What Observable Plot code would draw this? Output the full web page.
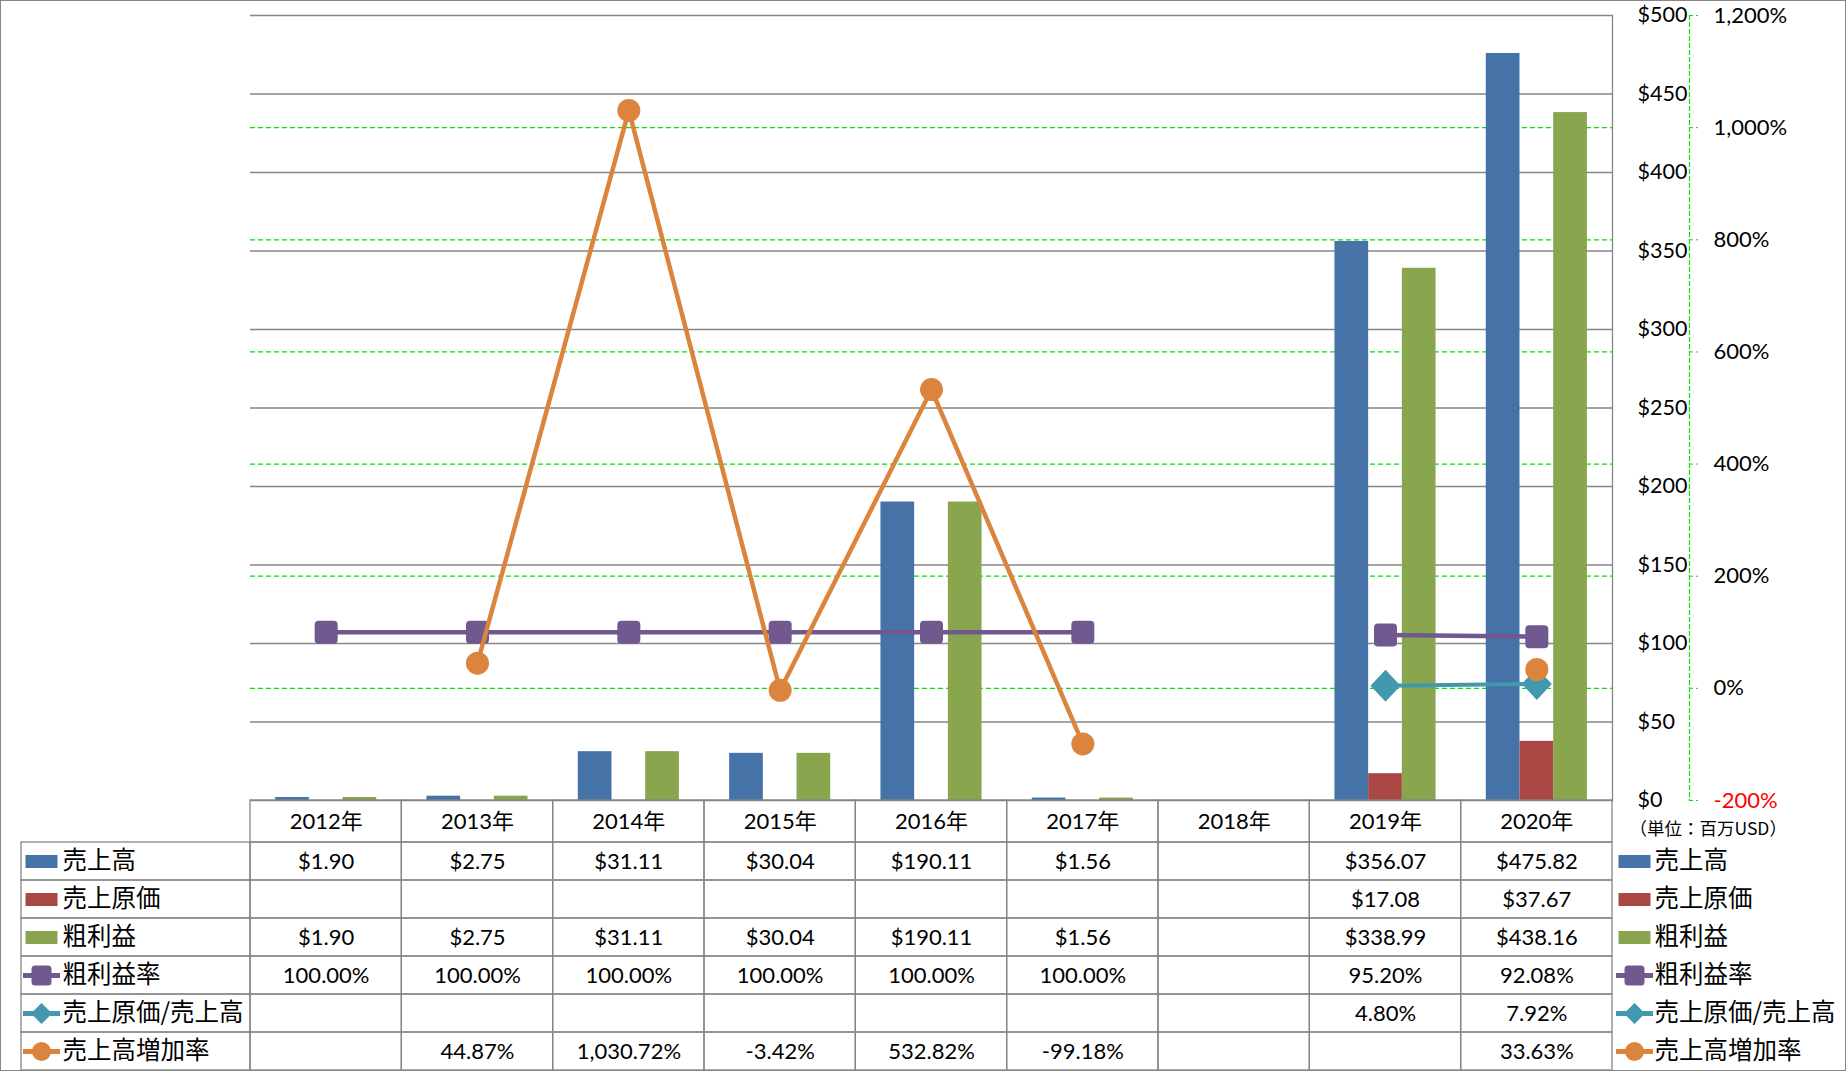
<!DOCTYPE html>
<html><head><meta charset="utf-8">
<script src="https://cdn.jsdelivr.net/npm/d3@7"></script>
<script src="https://cdn.jsdelivr.net/npm/@observablehq/plot@0.6"></script>
<style>
html,body{margin:0;padding:0;background:#fff;}
#wrap{position:relative;width:1846px;height:1071px;overflow:hidden;background:#fff;}
#wrap svg{position:absolute;overflow:visible;}
#border{position:absolute;left:0;top:0;width:1846px;height:1071px;box-sizing:border-box;border:1px solid #868686;pointer-events:none;}
</style></head>
<body><div id="wrap"><div id="border"></div></div>
<script>
// ---------- data ----------
const years = ["2012年","2013年","2014年","2015年","2016年","2017年","2018年","2019年","2020年"];
const sales       = [1.90, 2.75, 31.11, 30.04, 190.11, 1.56, null, 356.07, 475.82];
const cogs        = [null, null, null, null, null, null, null, 17.08, 37.67];
const gross       = [1.90, 2.75, 31.11, 30.04, 190.11, 1.56, null, 338.99, 438.16];
const grossMargin = [100, 100, 100, 100, 100, 100, null, 95.20, 92.08];
const cogsRatio   = [null, null, null, null, null, null, null, 4.80, 7.92];
const salesGrowth = [null, 44.87, 1030.72, -3.42, 532.82, -99.18, null, null, 33.63];
const seriesNames = ["売上高","売上原価","粗利益","粗利益率","売上原価/売上高","売上高増加率"];
const dollarTicks = [0, 50, 100, 150, 200, 250, 300, 350, 400, 450, 500];
const pctTicks = [-200, 0, 200, 400, 600, 800, 1000, 1200];
const unitNote = "（単位：百万USD）";

// ---------- styles ----------
const BLUE = "#4572A7", RED = "#AA4643", GRN = "#89A54E", PURPLE = "#71588F", CYAN = "#4198AF", ORANGE = "#DB843D";
const GRAY = "#868686", LIME = "#00E600";
const NUM = "Lato, 'Noto Sans CJK JP', sans-serif";
const JP = "'Noto Sans CJK JP', sans-serif";
const W = 1846, PL = 250, PR = 234;
const bw = (W - PL - PR) / years.length;
const barW = 33.7;
const NUMSIZE = 22, JPSIZE = 24.5;

// secondary (percent) axis mapped onto the dollar scale
const pMin = pctTicks[0], pMax = pctTicks[pctTicks.length - 1];
const dMax = dollarTicks[dollarTicks.length - 1];
const toD = p => (p == null ? NaN : (p - pMin) / (pMax - pMin) * dMax);
const fixMinus = s => s.replace(/\u2212/g, "-");
const money = v => "$" + fixMinus(d3.format(",.2f")(v));
const pct = v => fixMinus(d3.format(",.2f")(v)) + "%";
const pctLabel = v => fixMinus(d3.format(",")(v)) + "%";

const rows = years.map((year, i) => ({year, sales: sales[i], cogs: cogs[i], gross: gross[i],
  gm: grossMargin[i], cr: cogsRatio[i], sg: salesGrowth[i]}));

// ---------- symbols ----------
function roundSq(s, r) {
  return {draw(c) {
    c.moveTo(-s + r, -s); c.lineTo(s - r, -s); c.arcTo(s, -s, s, -s + r, r);
    c.lineTo(s, s - r); c.arcTo(s, s, s - r, s, r);
    c.lineTo(-s + r, s); c.arcTo(-s, s, -s, s - r, r);
    c.lineTo(-s, -s + r); c.arcTo(-s, -s, -s + r, -s, r); c.closePath();
  }};
}
const diamond = (w, h) => ({draw(c) { c.moveTo(0, -h); c.lineTo(w, 0); c.lineTo(0, h); c.lineTo(-w, 0); c.closePath(); }});
const circle = r => ({draw(c) { c.moveTo(r, 0); c.arc(0, 0, r, 0, 2 * Math.PI); c.closePath(); }});
const rectSym = {draw(c) { c.rect(-16, -6.5, 32, 13); }};
const lineSym = m => ({draw(c) { c.rect(-18.5, -2.5, 37, 5); m.draw(c); }});
const legendSym = [rectSym, rectSym, rectSym, lineSym(roundSq(10, 3.5)), lineSym(diamond(10.5, 10.5)), lineSym(circle(9.5))];
const legendFill = [BLUE, RED, GRN, PURPLE, CYAN, ORANGE];

const wrap = document.getElementById("wrap");
const border = document.getElementById("border");
function place(svg, left, top) {
  svg.style.left = left + "px"; svg.style.top = top + "px";
  wrap.insertBefore(svg, border);
}
const baseStyle = {background: "transparent", fontFamily: NUM, fontSize: NUMSIZE + "px", color: "#000", overflow: "visible"};

// ---------- main chart ----------
const chart = Plot.plot({
  width: W, height: 830,
  marginLeft: PL, marginRight: PR, marginTop: 15, marginBottom: 30,
  x: {type: "band", domain: years, padding: 0, round: false, axis: null},
  y: {domain: [0, dMax], axis: null},
  style: baseStyle,
  marks: [
    Plot.ruleY(pctTicks, {y: toD, stroke: LIME, strokeWidth: 1.2, strokeDasharray: "5,3"}),
    Plot.ruleY(dollarTicks, {y: d => d, stroke: GRAY, strokeWidth: 1.3}),
    Plot.barY(rows, {x: "year", y: "sales", fill: BLUE, insetLeft: bw / 2 - 1.5 * barW, insetRight: bw / 2 + 0.5 * barW}),
    Plot.barY(rows, {x: "year", y: "cogs", fill: RED, insetLeft: bw / 2 - 0.5 * barW, insetRight: bw / 2 - 0.5 * barW}),
    Plot.barY(rows, {x: "year", y: "gross", fill: GRN, insetLeft: bw / 2 + 0.5 * barW, insetRight: bw / 2 - 1.5 * barW}),
    Plot.line(rows, {x: "year", y: d => toD(d.gm), stroke: PURPLE, strokeWidth: 4.5}),
    Plot.dot(rows, {x: "year", y: d => toD(d.gm), symbol: roundSq(11.5, 4), fill: PURPLE}),
    Plot.line(rows, {x: "year", y: d => toD(d.cr), stroke: CYAN, strokeWidth: 4}),
    Plot.dot(rows, {x: "year", y: d => toD(d.cr), symbol: diamond(15, 16), fill: CYAN}),
    Plot.line(rows, {x: "year", y: d => toD(d.sg), stroke: ORANGE, strokeWidth: 4.5}),
    Plot.dot(rows, {x: "year", y: d => toD(d.sg), r: 11.5, fill: ORANGE}),
    Plot.frame({anchor: "right", stroke: GRAY, strokeWidth: 1.3}),
    Plot.frame({anchor: "right", dx: 77, stroke: LIME, strokeWidth: 1.2, strokeDasharray: "4,3"}),
    Plot.axisY(pctTicks.map(toD), {anchor: "right", dx: 77, tickSize: 8, tickFormat: () => "", stroke: LIME, strokeDasharray: "3,3"}),
    Plot.text(dollarTicks, {y: d => d, text: d => "$" + d, frameAnchor: "right", dx: 25, textAnchor: "start", fontSize: 21.5, fill: "#000"}),
    Plot.text(pctTicks.filter(d => d >= 0), {y: toD, text: pctLabel, frameAnchor: "right", dx: 101, textAnchor: "start", fontSize: 22, fill: "#000"}),
    Plot.text(pctTicks.filter(d => d < 0), {y: toD, text: pctLabel, frameAnchor: "right", dx: 101, textAnchor: "start", fontSize: 22, fill: "#FF0000"})
  ]
});
place(chart, 0, 0);

// ---------- table header row ----------
const header = Plot.plot({
  width: W, height: 42,
  marginLeft: PL, marginRight: PR, marginTop: 0, marginBottom: 0,
  x: {type: "band", domain: years, padding: 0, round: false, axis: null},
  y: {type: "band", domain: ["hdr"], padding: 0, round: false, axis: null},
  style: baseStyle,
  marks: [
    Plot.cell(years, {x: d => d, y: () => "hdr", fill: "none", stroke: GRAY, strokeWidth: 1.3}),
    Plot.text(years, {x: d => d, y: () => "hdr", text: d => d, fontSize: NUMSIZE, fill: "#000"}),
    Plot.text([unitNote], {y: () => "hdr", text: d => d, frameAnchor: "right", dx: 17, dy: 8, textAnchor: "start", fontSize: 17.5, fontFamily: JP, fill: "#000"})
  ]
});
place(header, 0, 800);

// ---------- table body ----------
const rowVals = [sales, cogs, gross, grossMargin, cogsRatio, salesGrowth];
const rowFmt = [money, money, money, pct, pct, pct];
const cells = seriesNames.flatMap((name, r) => years.map((year, i) => ({year, row: name, v: rowVals[r][i], f: rowFmt[r]})))
  .filter(d => d.v != null);

const body = Plot.plot({
  width: W, height: 229,
  marginLeft: PL, marginRight: PR, marginTop: 0, marginBottom: 1,
  x: {type: "band", domain: years, padding: 0, round: false, axis: null},
  y: {type: "band", domain: seriesNames, padding: 0, round: false, axis: null},
  style: baseStyle,
  marks: [
    Plot.cell(d3.cross(years, seriesNames), {x: d => d[0], y: d => d[1], fill: "none", stroke: GRAY, strokeWidth: 1.3}),
    Plot.text(cells, {x: "year", y: "row", text: d => d.f(d.v), fontSize: NUMSIZE, fill: "#000"}),
    Plot.text(seriesNames, {y: d => d, text: d => d, frameAnchor: "right", dx: 42, textAnchor: "start", fontSize: JPSIZE, fontFamily: JP, fill: "#000"}),
    ...seriesNames.map((n, i) => Plot.dot([n], {y: d => d, frameAnchor: "right", dx: 22, symbol: legendSym[i], fill: legendFill[i]}))
  ]
});
place(body, 0, 842);

// ---------- row label column ----------
const labels = Plot.plot({
  width: PL, height: 229,
  marginLeft: 21, marginRight: 0, marginTop: 0, marginBottom: 1,
  x: {type: "band", domain: ["label"], padding: 0, round: false, axis: null},
  y: {type: "band", domain: seriesNames, padding: 0, round: false, axis: null},
  style: {...baseStyle, fontFamily: JP},
  marks: [
    Plot.cell(seriesNames, {x: () => "label", y: d => d, fill: "none", stroke: GRAY, strokeWidth: 1.3}),
    Plot.text(seriesNames, {y: d => d, text: d => d, frameAnchor: "left", dx: 41, textAnchor: "start", fontSize: JPSIZE, fontFamily: JP, fill: "#000"}),
    ...seriesNames.map((n, i) => Plot.dot([n], {y: d => d, frameAnchor: "left", dx: 20, symbol: legendSym[i], fill: legendFill[i]}))
  ]
});
place(labels, 0, 842);
</script>
</body></html>
